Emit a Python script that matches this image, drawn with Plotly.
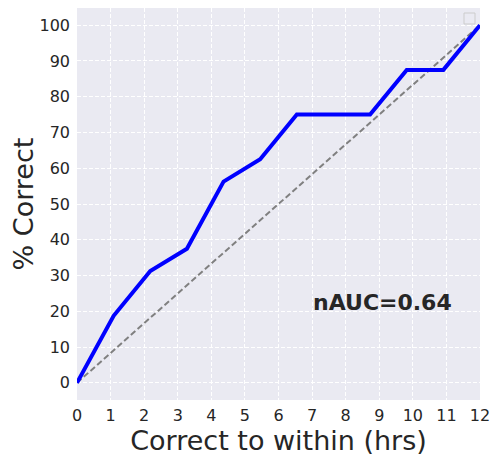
import plotly.graph_objects as go

hours = [0, 12/11, 24/11, 36/11, 48/11, 60/11, 72/11, 84/11, 96/11, 108/11, 120/11, 12]
pct_correct = [0, 18.75, 31.25, 37.5, 56.25, 62.5, 75, 75, 75, 87.5, 87.5, 100]
diag_x = [0, 12]
diag_y = [0, 100]
x_ticks = list(range(0, 13))
y_ticks = list(range(0, 101, 10))
nauc_label = "nAUC=0.64"

fig = go.Figure()
fig.add_trace(go.Scatter(x=diag_x, y=diag_y, mode="lines",
                         line=dict(color="gray", width=2, dash="6px,3px"),
                         showlegend=False, hoverinfo="skip"))
fig.add_trace(go.Scatter(x=hours, y=pct_correct, mode="lines",
                         line=dict(color="#0000ff", width=4),
                         showlegend=False))

fig.add_annotation(x=9.1, y=22.6, text="<b>" + nauc_label + "</b>", showarrow=False,
                   font=dict(size=22, color="#262626", family="DejaVu Sans"))

# empty legend box
fig.add_shape(type="rect", xref="paper", yref="paper",
              x0=(464-77)/403, x1=(475-77)/403, y0=(400-24)/392, y1=(400-13)/392,
              line=dict(color="#cccccc", width=1), fillcolor="#EAEAF2")

axis_common = dict(showgrid=True, gridcolor="white", griddash="4px,2px", gridwidth=0.8,
                   zeroline=False, showline=False, ticks="", automargin=False,
                   tickfont=dict(size=16, color="#262626", family="DejaVu Sans"))

# page body has an 8px margin, so the figure is sized/margined to compensate
fig.update_layout(
    width=490, height=454,
    margin=dict(l=69, r=18, t=0, b=62),
    paper_bgcolor="white", plot_bgcolor="#EAEAF2",
    font=dict(family="DejaVu Sans", color="#262626"),
    xaxis=dict(range=[0, 12], tickvals=x_ticks, ticklabelstandoff=4,
               title=dict(text="Correct to within (hrs)", font=dict(size=27, color="#262626"), standoff=2),
               **axis_common),
    yaxis=dict(range=[-4.8, 104.8], tickvals=y_ticks, ticklabelstandoff=6,
               title=dict(text="% Correct", font=dict(size=27, color="#262626"), standoff=8),
               **axis_common),
)

fig.write_html("out.html")
